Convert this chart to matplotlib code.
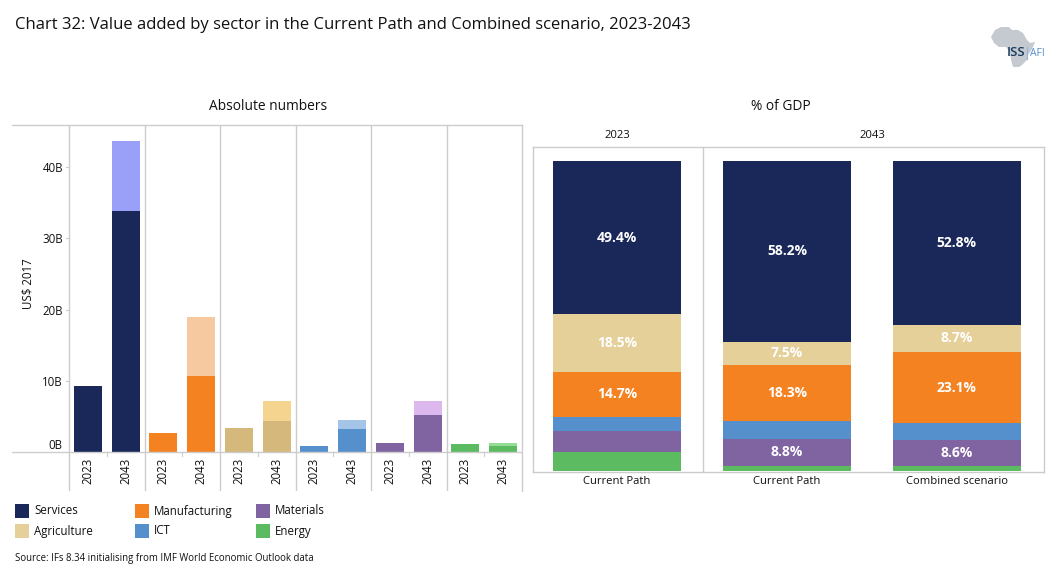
import matplotlib
matplotlib.use('Agg')
import matplotlib.pyplot as plt
from matplotlib.lines import Line2D
from matplotlib.patches import Polygon, Rectangle

plt.rcParams['font.family'] = ['Open Sans', 'DejaVu Sans']

W, H = 1055, 584
GRID = '#cccccc'
TXT = '#111111'

# absolute numbers, US$ billion
sectors = ['Services', 'Manufacturing', 'Agriculture', 'ICT', 'Materials', 'Energy']
colors = ['#1a2859', '#f58220', '#d4b87c', '#5590cc', '#8064a2', '#5cbb60']
light_colors = ['#9a9ff7', '#f7c9a0', '#f4d48e', '#a4c4e8', '#dcb8ef', '#96dc96']
abs_2023 = [9.2, 2.7, 3.4, 0.9, 1.3, 1.1]
abs_2043_current = [33.8, 10.7, 4.4, 3.2, 5.2, 0.9]
abs_2043_combined = [43.7, 19.0, 7.2, 4.5, 7.2, 1.3]
abs_ticks = [0, 10, 20, 30, 40]
abs_tick_labels = ['0B', '10B', '20B', '30B', '40B']

# % of GDP, stacked from the top down
gdp_labels = ['Current Path', 'Current Path', 'Combined scenario']
gdp_order = ['Services', 'Agriculture', 'Manufacturing', 'ICT', 'Materials', 'Energy']
gdp_colors = ['#1a2859', '#e5d09a', '#f58220', '#5590cc', '#8064a2', '#5cbb60']
gdp_services = [49.4, 58.2, 52.8]
gdp_agriculture = [18.5, 7.5, 8.7]
gdp_manufacturing = [14.7, 18.3, 23.1]
gdp_ict = [4.5, 5.5, 5.3]
gdp_materials = [6.8, 8.8, 8.6]
gdp_energy = [6.1, 1.7, 1.5]
# labels only shown on the larger segments
label_min = 7


def px_axes(fig, x0, y0, x1, y1):
    # pixel box, y measured from the top of the picture
    return fig.add_axes([x0 / W, 1 - y1 / H, (x1 - x0) / W, (y1 - y0) / H])


def fig_text(fig, x, y, s, **kw):
    return fig.text(x / W, 1 - y / H, s, va=kw.pop('va', 'center'), color=kw.pop('color', TXT), **kw)


fig = plt.figure(figsize=(W / 100, H / 100), dpi=100)

fig_text(fig, 15, 25, 'Chart 32: Value added by sector in the Current Path and Combined scenario, 2023-2043', fontsize=12)
fig_text(fig, 268, 107, 'Absolute numbers', fontsize=9.9, ha='center')
fig_text(fig, 781, 107, '% of GDP', fontsize=9.9, ha='center')

# left chart
ax = px_axes(fig, 12, 125, 522, 491)
ax.set_xlim(-57 / 37.75, 12)
ax.set_ylim(-5.47, 45.9)
for s in ['top', 'right', 'bottom', 'left']:
    ax.spines[s].set_visible(False)

for i in range(len(sectors)):
    x1 = 2 * i + 0.5
    x2 = 2 * i + 1.5
    ax.bar(x1, abs_2023[i], width=0.74, color=colors[i], zorder=2)
    ax.bar(x2, abs_2043_combined[i], width=0.74, color=light_colors[i], zorder=2)
    ax.bar(x2, abs_2043_current[i], width=0.74, color=colors[i], zorder=3)
    ax.text(x1, -0.75, '2023', rotation=90, ha='center', va='top', fontsize=8.3, color=TXT)
    ax.text(x2, -0.75, '2043', rotation=90, ha='center', va='top', fontsize=8.3, color=TXT)
    ax.axvline(2 * i, color=GRID, lw=1, zorder=1)
    ax.plot([2 * i + 1, 2 * i + 1], [0, -0.5], color=GRID, lw=0.8, zorder=1)
ax.axvline(12, color=GRID, lw=1, clip_on=False, zorder=1)
ax.axhline(45.9, color=GRID, lw=1, clip_on=False, zorder=1)
ax.axhline(0, color=GRID, lw=1, zorder=4)
for t in abs_ticks[1:]:
    ax.plot([-0.08, 0], [t, t], color=GRID, lw=0.8, zorder=1)

ax.set_xticks([])
ax.set_yticks(abs_ticks)
ax.set_yticklabels(abs_tick_labels, fontsize=8.3, color=TXT)
ax.tick_params(axis='y', length=0, pad=-36.6)
# the 0B label sits above the baseline
ax.get_yticklabels()[0].set_va('bottom')
ax.patch.set_alpha(0)
fig_text(fig, 28, 284, 'US$ 2017', rotation=90, fontsize=8.3, ha='center')

# right chart
ax2 = px_axes(fig, 533, 147, 1044, 472)
ax2.set_xlim(0, 3.007)
ax2.set_ylim(-0.3, 104.6)
ax2.set_xticks([])
ax2.set_yticks([])
for s in ax2.spines.values():
    s.set_color(GRID)
    s.set_linewidth(1)
ax2.axvline(1, color=GRID, lw=1)

gdp_values = [gdp_services, gdp_agriculture, gdp_manufacturing, gdp_ict, gdp_materials, gdp_energy]
for c in range(3):
    top = 100.0
    for k in range(len(gdp_order)):
        v = gdp_values[k][c]
        ax2.bar(c + 0.494, v, bottom=top - v, width=0.753, color=gdp_colors[k], zorder=2)
        if v >= label_min:
            ax2.text(c + 0.494, top - v / 2, f'{v}%', color='white', fontsize=10, fontweight='bold',
                     ha='center', va='center', zorder=3)
        top -= v
    fig_text(fig, 617 + 170 * c, 482, gdp_labels[c], fontsize=8.1, ha='center')

fig_text(fig, 617, 136, '2023', fontsize=8.1, ha='center')
fig_text(fig, 872, 136, '2043', fontsize=8.1, ha='center')

# legend
legend_cols = [15, 135, 256]
legend_rows = [511, 531]
legend_items = [('Services', '#1a2859', 0, 0), ('Manufacturing', '#f58220', 1, 0), ('Materials', '#8064a2', 2, 0),
                ('Agriculture', '#e5d09a', 0, 1), ('ICT', '#5590cc', 1, 1), ('Energy', '#5cbb60', 2, 1)]
for name, col, cx, cy in legend_items:
    x = legend_cols[cx]
    y = legend_rows[cy]
    fig.add_artist(Rectangle((x / W, 1 - (y + 7) / H), 14 / W, 14 / H, transform=fig.transFigure, color=col, lw=0))
    fig_text(fig, x + 19, y, name, fontsize=8.3)

fig_text(fig, 15, 559, 'Source: IFs 8.34 initialising from IMF World Economic Outlook data', fontsize=6.9)

# logo, rough outline of the continent
africa = [(991, 37), (995, 30), (1001, 27), (1009, 27), (1012, 30), (1018, 30), (1023, 33), (1027, 40),
          (1030, 43), (1035, 42), (1032, 49), (1028, 55), (1027, 60), (1022, 65), (1019, 67), (1013, 67),
          (1011, 60), (1010, 52), (1006, 47), (999, 47), (994, 43)]
fig.add_artist(Polygon([(x / W, 1 - y / H) for x, y in africa], transform=fig.transFigure, color='#c5c9d0', lw=0))
fig_text(fig, 1007, 53, 'ISS', fontsize=9.5, color='#1a3a5f', fontweight='semibold')
fig.add_artist(Line2D([1027 / W, 1027 / W], [1 - 47 / H, 1 - 59 / H], transform=fig.transFigure, color='#8fb5dc', lw=0.8))
fig_text(fig, 1030, 53, 'AFI', fontsize=7.5, color='#5590cc')

fig.savefig('out.png', dpi=100)
